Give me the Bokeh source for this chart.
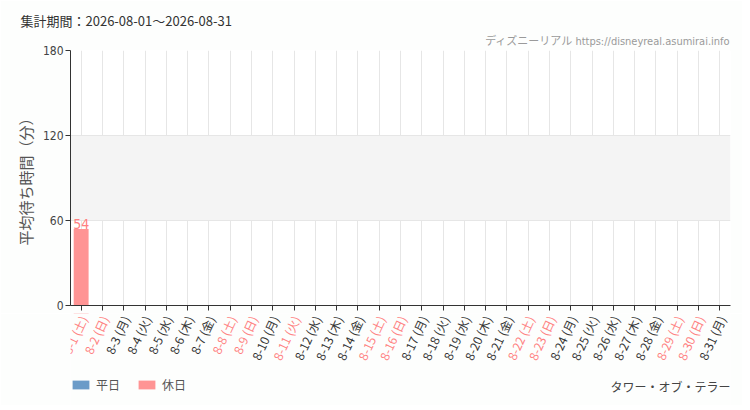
from bokeh.plotting import figure
from bokeh.models import (ColumnDataSource, FactorRange, FixedTicker, LabelSet,
                          Legend, LegendItem, Title, Range1d, CustomJSTickFormatter)
from bokeh.layouts import column
from bokeh.core.properties import value
from bokeh.embed import file_html
from bokeh.resources import INLINE
import math

# ---- data ----
dates = ["8-1", "8-2", "8-3", "8-4", "8-5", "8-6", "8-7", "8-8", "8-9", "8-10",
         "8-11", "8-12", "8-13", "8-14", "8-15", "8-16", "8-17", "8-18", "8-19", "8-20",
         "8-21", "8-22", "8-23", "8-24", "8-25", "8-26", "8-27", "8-28", "8-29", "8-30", "8-31"]
weekdays = ["土", "日", "月", "火", "水", "木", "金", "土", "日", "月",
            "火", "水", "木", "金", "土", "日", "月", "火", "水", "木",
            "金", "土", "日", "月", "火", "水", "木", "金", "土", "日", "月"]
holiday = [1, 1, 0, 0, 0, 0, 0, 1, 1, 0,
           1, 0, 0, 0, 1, 1, 0, 0, 0, 0,
           0, 1, 1, 0, 0, 0, 0, 0, 1, 1, 0]
waits = [54, None, None, None, None, None, None, None, None, None,
         None, None, None, None, None, None, None, None, None, None,
         None, None, None, None, None, None, None, None, None, None, None]
y_ticks = [0, 60, 120, 180]
title_text = "集計期間：2026-08-01～2026-08-31"
credit_text = "ディズニーリアル https://disneyreal.asumirai.info"
attraction = "タワー・オブ・テラー"
legend_names = ["平日", "休日"]
y_label = "平均待ち時間（分）"

WEEKDAY_C = "#6b9bc8"
HOLIDAY_C = "#ff9494"
HOLI_TXT = "#ff8080"
DAY_TXT = "#333333"
BG = "#fdfefd"
JP = "Noto Sans CJK JP"
NARROW = "'DejaVu Sans Condensed', Roboto, 'Noto Sans CJK JP', sans-serif"

labels = [f"{d} ({w})" for d, w in zip(dates, weekdays)]
nan = float("nan")

LEFT, FW, RIGHT = 70, 660, 12
xr = FactorRange(factors=labels, range_padding=0)
p = figure(x_range=xr, y_range=(0, 180),
           frame_width=FW, frame_height=255, output_backend="svg", toolbar_location=None,
           min_border_left=LEFT, min_border_right=RIGHT, min_border_top=50, min_border_bottom=8)
p.background_fill_color = "#ffffff"
p.border_fill_color = BG
p.outline_line_color = None

wk = dict(x=[], top=[])
hd = dict(x=[], top=[])
for lab, h, v in zip(labels, holiday, waits):
    tgt = hd if h else wk
    tgt["x"].append(lab)
    tgt["top"].append(nan if v is None else v)
src_wk = ColumnDataSource(wk)
src_hd = ColumnDataSource(hd)
p.vbar(x="x", top="top", width=0.7, source=src_wk, fill_color=WEEKDAY_C, line_color=None)
p.vbar(x="x", top="top", width=0.7, source=src_hd, fill_color=HOLIDAY_C, line_color=None)

# value labels
vx, vy, vt, vc = [], [], [], []
for lab, h, v in zip(labels, holiday, waits):
    if v is not None:
        vx.append(lab); vy.append(v); vt.append(str(v)); vc.append(HOLI_TXT if h else "#5b88b8")
p.add_layout(LabelSet(x="x", y="y", text="t", text_color="c", y_offset=0,
                      source=ColumnDataSource(dict(x=vx, y=vy, t=vt, c=vc)),
                      text_align="center", text_baseline="bottom",
                      text_font=value(NARROW), text_font_size="14px"))

# x axis: ticks only (labels are drawn, coloured per day, in the footer below)
xa = p.xaxis[0]
xa.axis_line_color = "#333333"
xa.major_tick_line_color = "#333333"
xa.major_tick_out = 5
xa.major_tick_in = 0
xa.major_label_standoff = 0
xa.formatter = CustomJSTickFormatter(code="return '';")

ya = p.yaxis[0]
ya.ticker = FixedTicker(ticks=y_ticks)
ya.minor_tick_line_color = None
ya.axis_line_color = "#333333"
ya.major_tick_line_color = "#333333"
ya.major_tick_out = 5
ya.major_tick_in = 0
ya.major_label_standoff = 2
ya.major_label_text_font = NARROW
ya.major_label_text_font_size = "12px"
ya.major_label_text_color = "#444444"
ya.axis_label = y_label
ya.axis_label_text_font = JP
ya.axis_label_text_font_size = "15px"
ya.axis_label_text_font_style = "normal"
ya.axis_label_text_color = "#555555"
ya.axis_label_standoff = 4

p.xgrid.grid_line_color = "#e6e6e6"
p.ygrid.ticker = FixedTicker(ticks=y_ticks)
p.ygrid.grid_line_color = "#e6e6e6"
p.ygrid.band_fill_color = "#f4f4f4"
p.ygrid.band_fill_alpha = 1.0

# titles above (p.title is the outer one)
p.title = Title(text=title_text, align="left", offset=-50, text_font=JP,
                text_font_size="13px", text_color="#333333", text_font_style="normal",
                standoff=0)
p.add_layout(Title(text=credit_text, align="right", text_font=NARROW, text_font_size="11px",
                   text_color="#9a9a9a", text_font_style="normal", standoff=6), "above")

# footer: coloured day labels, legend and attraction name
FH = 92
f = figure(x_range=xr, y_range=Range1d(0, FH), frame_width=FW, frame_height=FH,
           output_backend="svg", toolbar_location=None, x_axis_location=None,
           y_axis_location=None, min_border_left=LEFT, min_border_right=RIGHT,
           min_border_top=0, min_border_bottom=0)
f.grid.visible = False
f.outline_line_color = None
f.background_fill_color = BG
f.border_fill_color = BG

f.add_layout(LabelSet(x="x", y="y", text="t", text_color="c", x_offset=2,
                      source=ColumnDataSource(dict(x=labels, y=[FH - 3] * len(labels), t=labels,
                                                   c=[HOLI_TXT if h else DAY_TXT for h in holiday])),
                      angle=65 * math.pi / 180, text_align="right", text_baseline="middle",
                      text_font=value(JP), text_font_size="12px"))

f.extra_y_ranges = {"hide": Range1d(-10, -1)}
sw_wk = f.vbar(x="x", top="top", width=0.7, source=src_wk, fill_color=WEEKDAY_C,
               line_color=None, y_range_name="hide")
sw_hd = f.vbar(x="x", top="top", width=0.7, source=src_hd, fill_color=HOLIDAY_C,
               line_color=None, y_range_name="hide")
legend = Legend(items=[LegendItem(label=legend_names[0], renderers=[sw_wk]),
                       LegendItem(label=legend_names[1], renderers=[sw_hd])],
                location=(0, 12), orientation="horizontal",
                glyph_width=21, glyph_height=11, label_height=11, label_standoff=5,
                spacing=16, padding=0, margin=0, border_line_color=None,
                background_fill_alpha=0, label_text_font=JP, label_text_font_size="12px",
                label_text_color="#555555")
f.add_layout(legend, "center")

# attraction name at the right end of the category axis (synthetic coordinate = factor count)
f.add_layout(LabelSet(x="x", y="y", text="t",
                      source=ColumnDataSource(dict(x=[float(len(labels))], y=[19], t=[attraction])),
                      text_font=value(JP), text_font_size="12px", text_color="#444444",
                      text_align="right", text_baseline="middle"))

layout = column(p, f, spacing=0)
open("out.html", "w").write(file_html(layout, INLINE))
